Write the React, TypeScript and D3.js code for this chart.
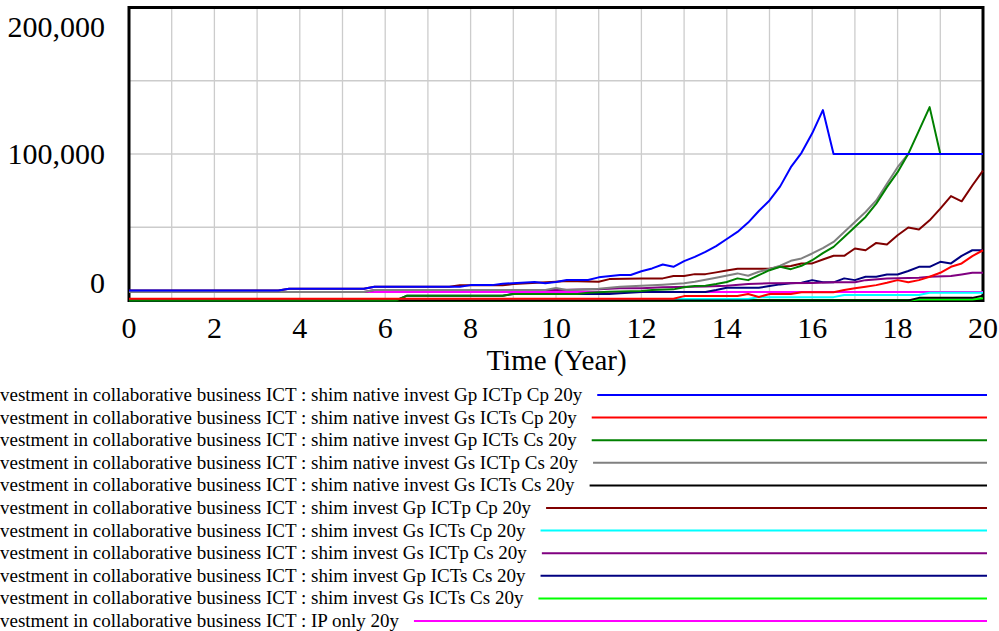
import React, { useEffect, useRef } from "react";
import * as d3 from "d3";

type Pt = [number, number];

// Time (Year), value
const nativeGpICTpCp: Pt[] = [
  [0, 6800], [3.5, 6800], [3.75, 8000], [5.5, 8000], [5.75, 9400], [7.75, 9400], [8, 10500], [8.5, 10500],
  [8.75, 11500], [9.5, 12600], [9.75, 11800], [10, 12600], [10.25, 14000], [10.75, 14000], [11, 15800],
  [11.5, 17400], [11.75, 17400], [12, 20000], [12.25, 21900], [12.5, 24600], [12.75, 23000], [13, 26900],
  [13.25, 29800], [13.5, 33200], [13.75, 37100], [14, 42000], [14.25, 46800], [14.5, 53200], [14.75, 61100],
  [15, 68300], [15.25, 77900], [15.5, 91000], [15.75, 100800], [16, 114100], [16.25, 130000], [16.5, 100000],
  [20, 100000],
];
const nativeGsICTsCp: Pt[] = [
  [0, 1200], [12.75, 1200], [13, 3000], [14.25, 3000], [14.5, 4400], [14.75, 2400], [15, 4400], [15.5, 4400],
  [15.75, 5600], [16.5, 5600], [16.75, 7100], [17, 8300], [17.25, 9400], [17.5, 10500], [17.75, 12100],
  [18, 13900], [18.25, 12400], [18.5, 13900], [18.75, 16200], [19, 18900], [19.25, 23000], [19.5, 25300],
  [19.75, 30300], [20, 34300],
];
const nativeGpICTsCs: Pt[] = [
  [0, 0], [6.25, 0], [6.5, 3200], [8.75, 3200], [9, 4500], [10.5, 4500], [10.75, 5300], [11.25, 6000],
  [12, 6500], [12.25, 7100], [12.75, 7600], [13, 9000], [13.25, 9900], [13.5, 10100], [13.75, 11200],
  [14, 12600], [14.25, 15100], [14.5, 13900], [14.75, 17300], [15, 20700], [15.25, 23000], [15.5, 21400],
  [15.75, 23700], [16, 27500], [16.25, 32300], [16.5, 36600], [16.75, 43400], [17, 50200], [17.25, 57000],
  [17.5, 66100], [17.75, 77400], [18, 87600], [18.25, 100100], [18.5, 116000], [18.75, 132000], [19, 100000],
  [20, 100000],
];
const nativeGsICTpCs: Pt[] = [
  [0, 5800], [5.5, 5800], [5.75, 7100], [9.75, 7100], [10, 8600], [10.25, 7100], [11, 8000], [11.5, 9400],
  [12, 10100], [12.5, 10800], [13, 11700], [13.25, 12800], [13.75, 15500], [14.25, 18500], [14.5, 16900],
  [14.75, 19600], [15, 21500], [15.25, 23700], [15.5, 27100], [15.75, 28700], [16, 32100], [16.25, 35700],
  [16.5, 40000], [16.75, 46800], [17, 53600], [17.25, 60400], [17.5, 68300], [17.75, 79700], [18, 91000],
  [18.25, 100000], [20, 100000],
];
const nativeGsICTsCs: Pt[] = [
  [0, 0], [18.25, 0], [18.5, 1800], [19.75, 1800], [20, 3200],
];
const investGpICTpCp: Pt[] = [
  [0, 6800], [3.5, 6800], [3.75, 8000], [5.5, 8000], [5.75, 9400], [7.5, 9400], [7.75, 10400], [8.75, 10400],
  [9, 11200], [10, 12800], [10.25, 13300], [11, 12800], [11.25, 14600], [12, 15100], [12.5, 15100],
  [12.75, 16700], [13, 16700], [13.25, 18000], [13.5, 18000], [13.75, 19200], [14, 20500], [14.25, 21600],
  [15, 21600], [15.25, 23000], [15.5, 23500], [15.75, 25300], [16, 25300], [16.25, 28000], [16.5, 30500],
  [16.75, 30500], [17, 35500], [17.25, 34300], [17.5, 39300], [17.75, 38200], [18, 44500], [18.25, 49800],
  [18.5, 48400], [18.75, 54700], [19, 62700], [19.25, 71300], [19.5, 67700], [19.75, 78500], [20, 88700],
];
const investGsICTsCp: Pt[] = [
  [0, 1000], [14.5, 1000], [14.75, 2300], [16.5, 2300], [16.75, 3700], [18.5, 3700], [18.75, 5300], [20, 5300],
];
const investGsICTpCs: Pt[] = [
  [0, 5800], [5.5, 5800], [5.75, 7100], [10, 7100], [11, 7600], [11.5, 8300], [12, 8300], [12.5, 9000],
  [13.5, 9500], [14, 10100], [14.5, 11200], [15, 11700], [16, 12000], [16.5, 12400], [17, 12400],
  [17.25, 13900], [17.75, 15100], [18.5, 15500], [18.75, 16200], [19.25, 16700], [19.5, 17800],
  [19.75, 18900], [20, 18900],
];
const investGpICTsCs: Pt[] = [
  [0, 0], [6.25, 0], [6.5, 3200], [8.75, 3200], [9, 4500], [11.25, 4500], [11.5, 5000], [12, 5800],
  [13.5, 5800], [13.75, 7100], [14, 8700], [14.75, 8700], [15, 9900], [15.25, 11000], [15.5, 11700],
  [15.75, 12100], [16, 13900], [16.25, 12400], [16.5, 12400], [16.75, 15100], [17, 13900], [17.25, 16200],
  [17.5, 16200], [17.75, 17800], [18, 17800], [18.25, 20100], [18.5, 23000], [18.75, 23000], [19, 26400],
  [19.25, 25300], [19.5, 30500], [19.75, 34300], [20, 34300],
];
const investGsICTsCs: Pt[] = [
  [0, 0], [18.25, 0], [18.5, 700], [19.75, 700], [20, 1500],
];
const ipOnly: Pt[] = [
  [0, 5800], [20, 5800],
];

const seriesLabels = [
  "Investment in collaborative business ICT : shim native invest Gp ICTp Cp 20y",
  "Investment in collaborative business ICT : shim native invest Gs ICTs Cp 20y",
  "Investment in collaborative business ICT : shim native invest Gp ICTs Cs 20y",
  "Investment in collaborative business ICT : shim native invest Gs ICTp Cs 20y",
  "Investment in collaborative business ICT : shim native invest Gs ICTs Cs 20y",
  "Investment in collaborative business ICT : shim invest Gp ICTp Cp 20y",
  "Investment in collaborative business ICT : shim invest Gs ICTs Cp 20y",
  "Investment in collaborative business ICT : shim invest Gs ICTp Cs 20y",
  "Investment in collaborative business ICT : shim invest Gp ICTs Cs 20y",
  "Investment in collaborative business ICT : shim invest Gs ICTs Cs 20y",
  "Investment in collaborative business ICT : IP only 20y",
];
const seriesData = [
  nativeGpICTpCp, nativeGsICTsCp, nativeGpICTsCs, nativeGsICTpCs, nativeGsICTsCs,
  investGpICTpCp, investGsICTsCp, investGsICTpCs, investGpICTsCs, investGsICTsCs, ipOnly,
];
const seriesColors = [
  "#0000FF", "#FF0000", "#008000", "#808080", "#000000",
  "#800000", "#00FFFF", "#800080", "#000080", "#00FF00", "#FF00FF",
];

const xTicks = [0, 2, 4, 6, 8, 10, 12, 14, 16, 18, 20];
const yTicks = [0, 100000, 200000];
const xTitle = "Time (Year)";

const W = 999;
const H = 631;
const FONT = "'Liberation Serif', 'Times New Roman', serif";

export default function App() {
  const ref = useRef<SVGSVGElement>(null);

  useEffect(() => {
    const svg = d3.select(ref.current);
    svg.selectAll("*").remove();

    const left = 129, right = 983, top = 7.5, bottom = 300.5;
    const x = d3.scaleLinear().domain([0, 20]).range([left, right]);
    const y = d3.scaleLinear().domain([0, 200000]).range([bottom, top]);

    const g = svg.append("g");

    // grid
    g.selectAll("line.vg")
      .data(d3.range(1, 20))
      .join("line")
      .attr("x1", (d) => x(d)).attr("x2", (d) => x(d))
      .attr("y1", top).attr("y2", bottom)
      .attr("stroke", "#cccccc").attr("stroke-width", 1.3);
    g.selectAll("line.hg")
      .data([50000, 100000, 150000])
      .join("line")
      .attr("x1", left).attr("x2", right)
      .attr("y1", (d) => y(d)).attr("y2", (d) => y(d))
      .attr("stroke", "#cccccc").attr("stroke-width", 1.3);

    // frame
    g.append("rect")
      .attr("x", left).attr("y", top)
      .attr("width", right - left).attr("height", bottom - top)
      .attr("fill", "none").attr("stroke", "#000").attr("stroke-width", 3);

    // lines
    const line = d3.line<Pt>().x((d) => x(d[0])).y((d) => y(d[1]));
    const order = d3.range(seriesData.length).reverse();
    g.selectAll("path.s")
      .data(order)
      .join("path")
      .attr("d", (i) => line(seriesData[i]) as string)
      .attr("fill", "none")
      .attr("stroke", (i) => seriesColors[i])
      .attr("stroke-width", 2)
      .attr("stroke-linejoin", "round");

    // y labels
    g.selectAll("text.yl")
      .data(yTicks)
      .join("text")
      .attr("x", 105)
      .attr("y", (d) => (d === 200000 ? y(d) + 29 : d === 0 ? y(d) - 8 : y(d) + 10))
      .attr("text-anchor", "end")
      .attr("font-family", FONT)
      .attr("font-size", 30)
      .text((d) => d3.format(",")(d));

    // x labels
    g.selectAll("text.xl")
      .data(xTicks)
      .join("text")
      .attr("x", (d) => x(d))
      .attr("y", 338)
      .attr("text-anchor", "middle")
      .attr("font-family", FONT)
      .attr("font-size", 30)
      .text((d) => String(d));

    g.append("text")
      .attr("x", (left + right) / 2 + 0.5)
      .attr("y", 370)
      .attr("text-anchor", "middle")
      .attr("font-family", FONT)
      .attr("font-size", 29)
      .text(xTitle);

    // legend
    const FS = 19;
    const lg = svg.append("g");
    const probe = lg.append("text").attr("font-family", FONT).attr("font-size", FS).text("In");
    const prefixW = (probe.node() as SVGTextElement).getComputedTextLength();
    probe.remove();
    seriesLabels.forEach((lab, i) => {
      const ly = 395 + i * 22.6;
      const t = lg.append("text")
        .attr("x", -prefixW)
        .attr("y", ly + 6)
        .attr("font-family", FONT)
        .attr("font-size", FS)
        .text(lab);
      const tw = (t.node() as SVGTextElement).getComputedTextLength();
      lg.append("line")
        .attr("x1", -prefixW + tw + 15).attr("x2", 987)
        .attr("y1", ly).attr("y2", ly)
        .attr("stroke", seriesColors[i]).attr("stroke-width", 2);
    });
  }, []);

  return (
    <svg ref={ref} width={W} height={H} style={{ position: "absolute", left: 0, top: 0, background: "#fff" }} />
  );
}
